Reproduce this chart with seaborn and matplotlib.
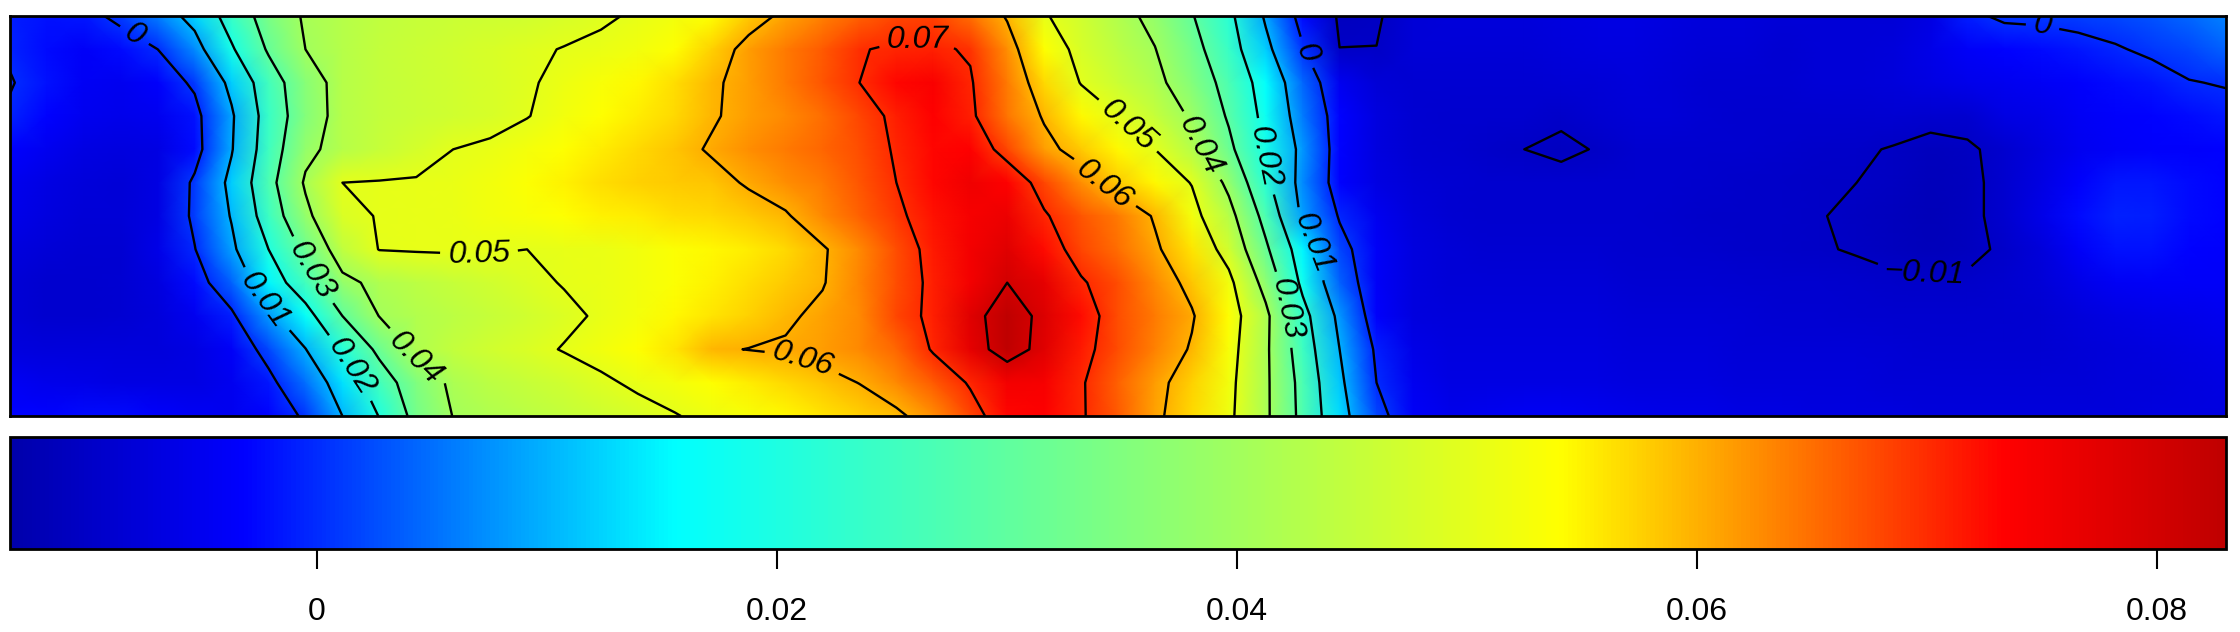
import numpy as np
import pandas as pd
import matplotlib
matplotlib.use('Agg')
import matplotlib.pyplot as plt
from matplotlib.colors import LinearSegmentedColormap
import seaborn as sns

# surface values, thousandths, top row first
row_00 = [-1,-2,-1.5,1.2,6.1,12.4,24,34,41,43,44.5,45.5,46,46.5,47,48,49.3,50.6,52,54,58,61,63.5,66,68,68.5,65,59.5,50.5,47,42.5,38,30.5,22,9,-2.5,-10.8,-10.4,-8,-7.5,-7.5,-7.5,-7,-6.5,-6.5,-7,-7.5,-7.5,-8,-8,-8,-8,-6.5,-1,0.8,1,1.5,2,3,4.5,6.5]
row_01 = [-0.6,-2.5,-4,-2.5,0,7,19,31,40,43,45,46,47,48,49.2,50.2,51,52,54,57.5,61.5,64,66.5,69.8,70.5,70.8,69.5,62.5,54,48,44,40.2,33,24,12,0.5,-9.95,-9.95,-8,-8,-8,-8,-7.5,-7,-7,-7.5,-8,-8,-8.5,-8,-8,-7.5,-6,-4,-3,-2.5,-1.5,-0.4,0.8,2,4]
row_02 = [0.3,-2,-4.5,-5,-3.5,1,12,25.5,36,43,45,46,47,48,49.4,51.3,53,54.5,56.5,59.3,61.5,64,67,70,73,74,70.5,64,57,49.7,46,42,35.5,27,16,4.5,-5,-8,-8.5,-8.5,-8.5,-8.5,-8.2,-8,-7.5,-8,-8.5,-8.5,-8.5,-8,-8,-7.5,-6.5,-5.5,-5,-4.5,-3.5,-2.5,-1.8,-0.2,0.3]
row_03 = [-0.6,-3,-5,-5.5,-5,-2,9,24,35.5,43,45,46,47,48,49.8,52,54,55.5,57,59.5,61.5,63,65,68,71,73.5,71,64.5,59.5,54.5,50,45.5,39,29,17.5,6,-3,-7,-8.5,-9,-9,-9,-9.5,-8.5,-8,-8,-8.5,-9,-9,-8.8,-8.8,-8.5,-9,-8.8,-6.5,-6,-4.5,-3.5,-3,-2.5,-1.5]
row_04 = [-3,-5,-6.5,-7,-6.5,-2.5,9.5,25,38,43,45.5,47.5,50,51,52.5,54,55.5,57,58.5,60.5,62.5,64,65.5,67.5,70.5,73,73.5,68,61.5,58,54.5,50,43,32,19,8,-3,-7,-8.5,-9,-9.5,-10,-10.6,-9.8,-9,-9,-9,-9,-9.2,-9.4,-9.6,-10.2,-11,-10.5,-9,-7,-5,-4,-3.5,-3.5,-3]
row_05 = [-5,-6.5,-7.5,-8,-6.5,1,12,27,41,50,50.3,50.5,51,52,53.5,55,56.5,57.5,58,58.5,60.5,62.5,64,67,70,73,75.5,73.5,68,62.5,58,54.5,49.7,38,22,7,-3,-6.5,-8,-8.5,-9,-9,-9,-9,-9,-9,-9.2,-9.4,-9.6,-9.8,-10,-10.5,-11.3,-10.8,-9,-6.5,-3.5,-1.5,-1.5,-2.5,-3]
row_06 = [-5.5,-7,-8,-8,-6.5,1.2,10.5,24.5,38,48.5,50.3,50.5,51,52,53,54,55,55.5,56.5,57,58,59.5,63,66,69.2,72,74.5,76,70.5,67,64,59.5,52.5,43,27,8.5,-0.5,-5,-7.5,-8.5,-9,-9,-9,-9,-9,-9.2,-9.4,-9.6,-9.7,-9.9,-10.4,-11,-11.5,-10.8,-9,-6,-2.5,-0.8,-1,-2.5,-3]
row_07 = [-7,-8,-8.5,-8.5,-6,-0.2,8.5,20,32,44.5,50.2,50.5,50.6,50.5,50,50.5,51,52,53.5,54.5,55.5,57,59.5,63,67.5,71.5,75,78,72.5,68,65,60.8,56,47,31.5,15,2,-4,-7,-8,-8.5,-8.5,-8.5,-8.5,-9,-9,-9.2,-9.5,-9.6,-9.8,-10.2,-10.8,-11.3,-10.8,-9.5,-7.5,-4,-2,-2,-3,-3.5]
row_08 = [-8,-9,-9,-8.5,-7,-2.5,4,15,25.5,38,42,44,45.5,47,48.7,50.3,51,52,53.5,55,56.5,58,59.7,63.3,67.5,71,75,80,77,70.5,67.5,63,58.5,52,37,18,4,-4,-7,-8,-8,-8,-8,-8,-8.5,-8.5,-8.5,-8.8,-9,-9,-9.2,-9.5,-9.6,-9.5,-9,-8,-6,-4.5,-4,-4,-4]
row_09 = [-8,-9,-9,-8.5,-7.5,-5,-1,8,16.5,30,40.2,42.5,44,45.5,47,48.8,50.7,52.5,54.5,56,57.5,59.3,61,63,68,71,78,83,78.5,72.5,67.5,64,60.5,54,42,23,8,-3.5,-7,-7.5,-7.5,-7.5,-7.5,-7.5,-8,-8,-8,-8.2,-8.5,-8.5,-8.7,-9,-9,-9,-8.8,-8.5,-7.5,-6.5,-6,-5.5,-5]
row_10 = [-7,-7.5,-7.5,-7.5,-7.5,-6.5,-4,2,9.8,21,32,42,45,47,48.5,50.3,52,54,56,59.5,60.1,60.5,61.5,63,65.5,70.5,77,83,78,71.5,67.5,63.5,59.5,53,41.5,25,10,-1,-6,-7,-7,-7,-7,-7,-7.5,-7.5,-7.5,-8,-8,-8,-8,-8.2,-8.5,-8.5,-8.5,-8.5,-8,-7.5,-7,-6.5,-6]
row_11 = [-4.5,-5.5,-6,-6.5,-6.5,-6.5,-5,-1.5,5,13.5,25.5,35,41.5,44,45.5,47,49,51,52.5,54,55.5,57,58.5,60.1,63,66.5,70.5,75,74.5,70.5,66,61.5,57.5,52,41.5,27,11.5,0,-5,-6.5,-6.5,-6.5,-6.5,-6.5,-7,-7,-7,-7.5,-7.5,-7.5,-7.5,-8,-8,-8,-8,-8,-8,-7.5,-7.5,-7,-6.5]
row_12 = [-3,-3,-2.5,-2.5,-3.5,-4.5,-5,-3,0.7,10,20.3,33,40.2,42,43.5,45,46.5,48,49.7,51.5,53,54.5,56,57.5,59,62.5,68,73,73.5,70.5,66.5,61,57,51.5,41.5,27.5,13,2,-4,-5.5,-5,-4.5,-4.5,-5,-5.5,-6,-6,-6.5,-6.5,-7,-7,-7,-7.5,-7.5,-7.5,-7.5,-7.5,-7.5,-7,-7,-7]

vmin, vmax = -0.01335, 0.083
contour_levels = [-0.01, 0, 0.01, 0.02, 0.03, 0.04, 0.05, 0.06, 0.07, 0.08]
bar_ticks = [0, 0.02, 0.04, 0.06, 0.08]
bar_ticklabels = ['0', '0.02', '0.04', '0.06', '0.08']

# where the contour labels sit (column, row)
label_spots = [(3.4, 0.52), (7.04, 8.42), (9.2, 10.57), (8.2, 7.62), (10.9, 10.32),
               (12.7, 7.17), (21.4, 10.52), (24.6, 0.92), (30.2, 3.37), (29.6, 5.07),
               (32.2, 3.92), (33.96, 4.22), (34.5, 8.82), (35.1, 6.92), (35.05, 1.12),
               (55, 0.5), (51.9, 7.32)]

plt.rcParams['font.family'] = ['Liberation Sans', 'DejaVu Sans']

rows = [row_00, row_01, row_02, row_03, row_04, row_05, row_06,
        row_07, row_08, row_09, row_10, row_11, row_12]
surface = pd.DataFrame(rows) / 1000

# jet-like ramp as measured on the colour bar
ramp = LinearSegmentedColormap.from_list(
    'ramp',
    [(0, (0, 0, 0.67)), (0.105, (0, 0, 1)), (0.30, (0, 1, 1)), (0.70, (1, 1, 0)),
     (0.90, (1, 0, 0)), (1, (0.75, 0, 0))], N=512)

W, H = 2240, 632
fig = plt.figure(figsize=(W/100, H/100), dpi=100)
ax = fig.add_axes([10/W, 1-416/H, 2216/W, 400/H])
cax = fig.add_axes([10/W, 1-549/H, 2216/W, 112/H])

sns.heatmap(surface, ax=ax, cmap=ramp, vmin=vmin, vmax=vmax, xticklabels=False,
            yticklabels=False, cbar_ax=cax, cbar_kws={'orientation': 'horizontal'},
            shading='gouraud')
ax.set_xlim(0, surface.shape[1]-1)
ax.set_ylim(surface.shape[0]-1, 0)
for s in ax.spines.values():
    s.set_visible(True)
    s.set_linewidth(2)
    s.set_color('black')

cs = ax.contour(np.arange(surface.shape[1]), np.arange(surface.shape[0]), surface.values,
                levels=contour_levels, colors='black', linewidths=1.7, linestyles='solid')
cs.set_joinstyle('round')
def lab(v):
    return ('%g' % round(v, 3)).replace('-', '\u2212')
texts = ax.clabel(cs, manual=label_spots, fmt=lab, fontsize=23, inline=True, inline_spacing=8)
for t in texts:
    t.set_style('italic')

cbar = ax.collections[0].colorbar
cbar.outline.set_visible(True)
cbar.outline.set_linewidth(2)
cbar.outline.set_edgecolor('black')
cbar.set_ticks(bar_ticks, labels=bar_ticklabels)
cax.tick_params(axis='x', length=14.4, width=1.5, pad=20, labelsize=23, bottom=True, labelbottom=True)

fig.savefig('out.png', dpi=100)
